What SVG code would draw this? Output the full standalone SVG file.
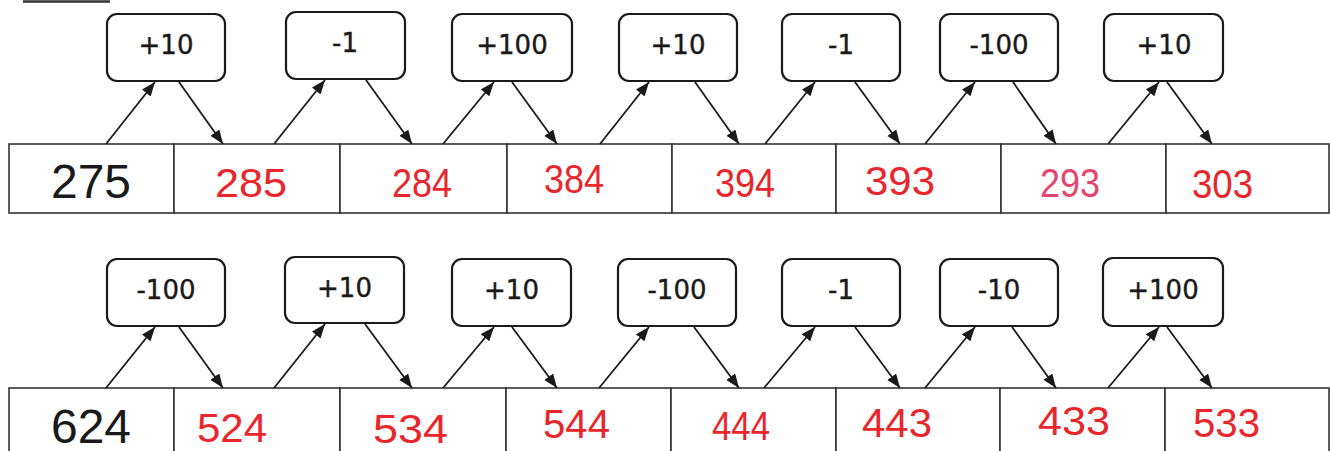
<svg xmlns="http://www.w3.org/2000/svg" width="1330" height="451" viewBox="0 0 1330 451">
<style>
.op rect{fill:#fff;stroke:#1a1a1a;stroke-width:2.2}
.op text{font-family:"DejaVu Sans",Verdana,sans-serif;font-size:26px;fill:#1a1a1a;stroke:#1a1a1a;stroke-width:0.4;text-anchor:middle}
.cell rect{fill:#fff;stroke:#333;stroke-width:1.6}
.start text{font-family:"Liberation Sans",Arial,sans-serif;font-size:48px;fill:#1a1a1a;text-anchor:middle}
.ans text{font-family:"Liberation Sans",Arial,sans-serif;font-size:40px;fill:#e8262c}
.ans text.pink{fill:#e5466e}
#connectors line{stroke:#1a1a1a;stroke-width:1.8;marker-end:url(#ah)}
</style>
<defs>
<marker id="ah" markerUnits="userSpaceOnUse" markerWidth="15" markerHeight="12" refX="14" refY="5.5" orient="auto">
<path d="M0,0 L14,5.5 L0,11 z" fill="#1a1a1a"/>
</marker>
</defs>
<rect width="1330" height="451" fill="#fff"/>
<line x1="23" y1="1.5" x2="110" y2="1.5" stroke="#333" stroke-width="2.5"/>

<!-- Row 1 cells -->
<g id="r1c0" class="cell start"><rect x="9" y="144" width="165" height="69"/><text x="91" y="198">275</text></g>
<g id="r1c1" class="cell ans"><rect x="174" y="144" width="166" height="69"/><text x="215" y="197" textLength="72" lengthAdjust="spacingAndGlyphs">285</text></g>
<g id="r1c2" class="cell ans"><rect x="340" y="144" width="167" height="69"/><text x="392" y="197" textLength="60" lengthAdjust="spacingAndGlyphs">284</text></g>
<g id="r1c3" class="cell ans"><rect x="507" y="144" width="165" height="69"/><text x="544" y="193" textLength="60" lengthAdjust="spacingAndGlyphs">384</text></g>
<g id="r1c4" class="cell ans"><rect x="672" y="144" width="164" height="69"/><text x="715" y="197" textLength="60" lengthAdjust="spacingAndGlyphs">394</text></g>
<g id="r1c5" class="cell ans"><rect x="836" y="144" width="165" height="69"/><text x="865" y="195" textLength="70" lengthAdjust="spacingAndGlyphs">393</text></g>
<g id="r1c6" class="cell ans"><rect x="1001" y="144" width="165" height="69"/><text class="pink" x="1040" y="197" textLength="60" lengthAdjust="spacingAndGlyphs">293</text></g>
<g id="r1c7" class="cell ans"><rect x="1166" y="144" width="163" height="69"/><text x="1192" y="198" textLength="61" lengthAdjust="spacingAndGlyphs">303</text></g>

<!-- Row 1 operation boxes -->
<g id="r1op1" class="op"><rect x="107" y="14" width="118" height="67" rx="10"/><text x="166" y="54">+10</text></g>
<g id="r1op2" class="op"><rect x="286" y="12" width="119" height="67" rx="10"/><text x="345" y="52">-1</text></g>
<g id="r1op3" class="op"><rect x="452" y="14" width="120" height="67" rx="10"/><text x="512" y="54">+100</text></g>
<g id="r1op4" class="op"><rect x="619" y="14" width="118" height="67" rx="10"/><text x="678" y="54">+10</text></g>
<g id="r1op5" class="op"><rect x="782" y="14" width="118" height="67" rx="10"/><text x="841" y="54">-1</text></g>
<g id="r1op6" class="op"><rect x="940" y="14" width="118" height="67" rx="10"/><text x="999" y="54">-100</text></g>
<g id="r1op7" class="op"><rect x="1104" y="14" width="119" height="67" rx="10"/><text x="1164" y="54">+10</text></g>

<!-- Row 2 cells -->
<g id="r2c0" class="cell start"><rect x="9" y="388" width="165" height="80"/><text x="91" y="443">624</text></g>
<g id="r2c1" class="cell ans"><rect x="174" y="388" width="166" height="80"/><text x="197" y="442" textLength="70" lengthAdjust="spacingAndGlyphs">524</text></g>
<g id="r2c2" class="cell ans"><rect x="340" y="388" width="166" height="80"/><text x="373" y="443" textLength="75" lengthAdjust="spacingAndGlyphs">534</text></g>
<g id="r2c3" class="cell ans"><rect x="506" y="388" width="165" height="80"/><text x="543" y="438" textLength="67" lengthAdjust="spacingAndGlyphs">544</text></g>
<g id="r2c4" class="cell ans"><rect x="671" y="388" width="165" height="80"/><text x="712" y="440" textLength="58" lengthAdjust="spacingAndGlyphs">444</text></g>
<g id="r2c5" class="cell ans"><rect x="836" y="388" width="164" height="80"/><text x="862" y="437" textLength="70" lengthAdjust="spacingAndGlyphs">443</text></g>
<g id="r2c6" class="cell ans"><rect x="1000" y="388" width="165" height="80"/><text x="1038" y="435" textLength="72" lengthAdjust="spacingAndGlyphs">433</text></g>
<g id="r2c7" class="cell ans"><rect x="1165" y="388" width="164" height="80"/><text x="1193" y="437" textLength="67" lengthAdjust="spacingAndGlyphs">533</text></g>

<!-- Row 2 operation boxes -->
<g id="r2op1" class="op"><rect x="107" y="259" width="118" height="67" rx="10"/><text x="166" y="299">-100</text></g>
<g id="r2op2" class="op"><rect x="285" y="257" width="119" height="66" rx="10"/><text x="344.5" y="297">+10</text></g>
<g id="r2op3" class="op"><rect x="452" y="259" width="119" height="67" rx="10"/><text x="511.5" y="299">+10</text></g>
<g id="r2op4" class="op"><rect x="618" y="259" width="118" height="67" rx="10"/><text x="677" y="299">-100</text></g>
<g id="r2op5" class="op"><rect x="782" y="259" width="118" height="67" rx="10"/><text x="841" y="299">-1</text></g>
<g id="r2op6" class="op"><rect x="940" y="259" width="118" height="67" rx="10"/><text x="999" y="299">-10</text></g>
<g id="r2op7" class="op"><rect x="1103" y="258" width="120" height="68" rx="10"/><text x="1163" y="299">+100</text></g>

<g id="connectors">
<line x1="106" y1="144" x2="155" y2="82"/>
<line x1="179" y1="82" x2="223" y2="144"/>
<line x1="274" y1="144" x2="325" y2="80"/>
<line x1="366" y1="80" x2="412" y2="144"/>
<line x1="443" y1="144" x2="494" y2="82"/>
<line x1="512" y1="82" x2="557" y2="144"/>
<line x1="600" y1="144" x2="649" y2="82"/>
<line x1="695" y1="82" x2="739" y2="144"/>
<line x1="765" y1="144" x2="815" y2="82"/>
<line x1="855" y1="82" x2="900" y2="144"/>
<line x1="925" y1="144" x2="975" y2="82"/>
<line x1="1013" y1="82" x2="1056" y2="144"/>
<line x1="1108" y1="144" x2="1159" y2="82"/>
<line x1="1167" y1="82" x2="1212" y2="144"/>

<line x1="106" y1="388" x2="155" y2="327"/>
<line x1="179" y1="327" x2="223" y2="388"/>
<line x1="274" y1="388" x2="325" y2="324"/>
<line x1="365" y1="324" x2="412" y2="388"/>
<line x1="443" y1="388" x2="494" y2="327"/>
<line x1="512" y1="327" x2="557" y2="388"/>
<line x1="599" y1="388" x2="649" y2="327"/>
<line x1="694" y1="327" x2="739" y2="388"/>
<line x1="764" y1="388" x2="815" y2="327"/>
<line x1="855" y1="327" x2="900" y2="388"/>
<line x1="925" y1="388" x2="975" y2="327"/>
<line x1="1012" y1="327" x2="1056" y2="388"/>
<line x1="1108" y1="388" x2="1159" y2="327"/>
<line x1="1167" y1="327" x2="1212" y2="388"/>
</g>
</svg>
